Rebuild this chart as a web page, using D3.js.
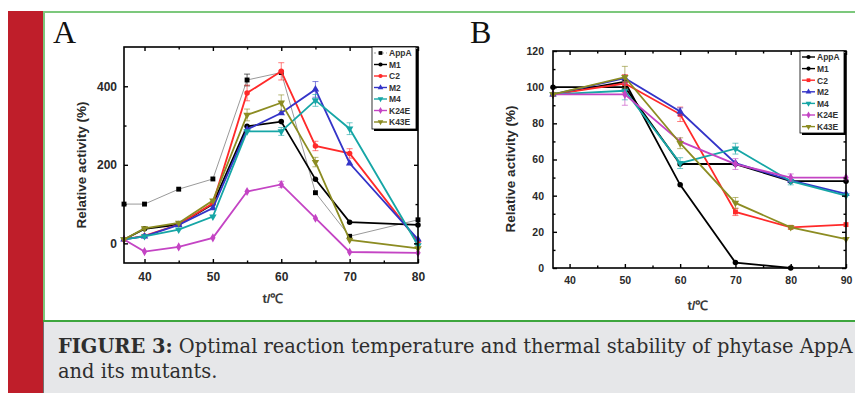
<!DOCTYPE html>
<html>
<head>
<meta charset="utf-8">
<script src="https://cdn.jsdelivr.net/npm/d3@7"></script>
<style>
  html, body { margin: 0; padding: 0; background: #fff; }
  svg { display: block; }
</style>
</head>
<body>
<div id="chart"></div>
<script>
// ---- data ----
const seriesNames = ["AppA", "M1", "C2", "M2", "M4", "K24E", "K43E"];
const seriesColors = ["#000000", "#000000", "#ff2a2a", "#3434c8", "#16a6a6", "#c444c4", "#8c8c22"];
const seriesSymbols = ["square", "circle", "circle", "triUp", "triDown", "diamond", "triDown"];

// panel A: optimal temperature
const tempA = [37, 40, 45, 50, 55, 60, 65, 70, 80];
const appaA = [100, 100, 138, 164, 416, 435, 129, 18, 60];
const m1A   = [10, 37, 48, 100, 298, 310, 163, 54, 47];
const c2A   = [10, 19, 48, 102, 383, 438, 248, 229, 5];
const m2A   = [10, 18, 47, 90, 290, 332, 392, 204, 10];
const m4A   = [10, 18, 35, 68, 285, 285, 364, 292, -5];
const k24eA = [10, -21, -9, 14, 132, 150, 64, -22, -24];
const k43eA = [10, 38, 52, 109, 327, 358, 207, 9, -13];
const errA  = {
  AppA: [0, 0, 0, 0, 15, 0, 0, 0, 0],
  C2:   [0, 0, 0, 0, 20, 22, 12, 12, 0],
  M2:   [0, 0, 0, 0, 0, 0, 20, 0, 0],
  M4:   [0, 0, 0, 0, 0, 10, 15, 15, 0],
  K24E: [0, 0, 0, 0, 0, 8, 0, 0, 0],
  K43E: [0, 0, 0, 0, 15, 20, 12, 0, 0]
};

// panel B: thermal stability
const tempB = [37, 50, 60, 70, 80, 90];
const appaB = [96, 103, 46, 3, 0];
const m1B   = [100, 100, 57.5, 57.5, 48, 48];
const c2B   = [96, 102, 85, 31, 22.5, 24];
const m2B   = [96, 105, 86.5, 58, 48.5, 41];
const m4B   = [96, 98, 58, 66, 48, 40];
const k24eB = [96, 96, 70, 57.5, 50, 50];
const k43eB = [96, 105.5, 69, 36, 22.5, 16];
const errB  = {
  C2:   [0, 5, 4, 2, 0, 0],
  M2:   [0, 0, 2, 0, 0, 0],
  M4:   [0, 5, 3, 3, 2, 0],
  K24E: [0, 6, 0, 3, 2, 0],
  K43E: [0, 6, 3, 3, 1, 0]
};

const W = 855, H = 393;
const svg = d3.select("#chart").append("svg")
  .attr("width", W).attr("height", H)
  .style("font-family", "'Liberation Sans', Arial, sans-serif");

// page frame: red side bar, green rules, grey caption box
svg.append("rect").attr("x", 0).attr("y", 0).attr("width", W).attr("height", H).attr("fill", "#fff");
svg.append("rect").attr("x", 8).attr("y", 11).attr("width", 35).attr("height", H - 11).attr("fill", "#bf1e2a");
svg.append("rect").attr("x", 43).attr("y", 322).attr("width", W - 43).attr("height", H - 322).attr("fill", "#e6e7e9");
svg.append("line").attr("x1", 43.5).attr("x2", 43.5).attr("y1", 322).attr("y2", H).attr("stroke", "#707070").attr("stroke-width", 1);
svg.append("line").attr("x1", 43).attr("x2", W).attr("y1", 12).attr("y2", 12).attr("stroke", "#7cc87c").attr("stroke-width", 2);
svg.append("line").attr("x1", 44).attr("x2", 44).attr("y1", 11).attr("y2", 321).attr("stroke", "#7cc87c").attr("stroke-width", 2);
svg.append("line").attr("x1", 43).attr("x2", W).attr("y1", 321).attr("y2", 321).attr("stroke", "#3ea63e").attr("stroke-width", 2);

function symbolPath(kind, size) {
  const map = {
    square: d3.symbolSquare, circle: d3.symbolCircle, triUp: d3.symbolTriangle,
    triDown: d3.symbolTriangle, diamond: d3.symbolDiamond
  };
  return d3.symbol().type(map[kind]).size(size)();
}

function drawPanel(p) {
  const x = d3.scaleLinear().domain(p.xDomain).range([p.left, p.right]);
  const y = d3.scaleLinear().domain(p.yDomain).range([p.bottom, p.top]);
  const g = svg.append("g");

  // series
  p.series.forEach((s, i) => {
    const name = seriesNames[i];
    const pts = s.map((v, k) => [p.temps[k], v]);
    const col = (p.grayFirst && i === 0) ? "#9a9a9a" : seriesColors[i];
    const line = d3.line().x(d => x(d[0])).y(d => y(d[1]));
    g.append("path").attr("d", line(pts)).attr("fill", "none")
      .attr("stroke", col).attr("stroke-width", (p.grayFirst && i === 0) ? 1 : 1.8);

    const err = p.errors[name] || [];
    pts.forEach((d, k) => {
      const e = err[k] || 0;
      if (!e) return;
      g.append("line").attr("x1", x(d[0])).attr("x2", x(d[0]))
        .attr("y1", y(d[1] - e)).attr("y2", y(d[1] + e))
        .attr("stroke", seriesColors[i]).attr("stroke-width", 1).attr("opacity", 0.6);
      [d[1] - e, d[1] + e].forEach(v => {
        g.append("line").attr("x1", x(d[0]) - 3).attr("x2", x(d[0]) + 3)
          .attr("y1", y(v)).attr("y2", y(v))
          .attr("stroke", seriesColors[i]).attr("stroke-width", 1).attr("opacity", 0.6);
      });
    });

    const sym = p.symbols[i];
    g.selectAll(null).data(pts).enter().append("path")
      .attr("d", symbolPath(sym, 24))
      .attr("transform", d => `translate(${x(d[0])},${y(d[1])})` + (sym === "triDown" ? " rotate(180)" : ""))
      .attr("fill", seriesColors[i]);
  });

  // frame
  g.append("rect").attr("x", p.left).attr("y", p.top)
    .attr("width", p.right - p.left).attr("height", p.bottom - p.top)
    .attr("fill", "none").attr("stroke", "#000").attr("stroke-width", 1.6);

  const axisStyle = sel => {
    sel.select(".domain").remove();
    sel.selectAll(".tick line").attr("stroke", "#000").attr("stroke-width", 1.4);
    sel.selectAll(".tick text").attr("font-size", p.tickFont).attr("font-weight", "bold").attr("fill", "#2a2a2a");
  };

  // major ticks with labels, pointing inward
  g.append("g").attr("transform", `translate(0,${p.bottom})`)
    .call(d3.axisBottom(x).tickValues(p.xMajor).tickSize(-4).tickPadding(p.xPad).tickFormat(d3.format("d")))
    .call(axisStyle);
  g.append("g").attr("transform", `translate(${p.left},0)`)
    .call(d3.axisLeft(y).tickValues(p.yMajor).tickSize(-4).tickPadding(p.yPad).tickFormat(d3.format("d")))
    .call(axisStyle);
  // opposite sides, no labels
  g.append("g").attr("transform", `translate(0,${p.top})`)
    .call(d3.axisTop(x).tickValues(p.xMajor).tickSize(-4).tickFormat(""))
    .call(axisStyle);
  g.append("g").attr("transform", `translate(${p.right},0)`)
    .call(d3.axisRight(y).tickValues(p.yMajor).tickSize(-4).tickFormat(""))
    .call(axisStyle);
  // minor ticks
  [[d3.axisBottom(x), p.bottom, p.xMinor, "x"], [d3.axisTop(x), p.top, p.xMinor, "x"],
   [d3.axisLeft(y), p.left, p.yMinor, "y"], [d3.axisRight(y), p.right, p.yMinor, "y"]]
    .forEach(([ax, pos, vals, dir]) => {
      g.append("g").attr("transform", dir === "x" ? `translate(0,${pos})` : `translate(${pos},0)`)
        .call(ax.tickValues(vals).tickSize(-2.5).tickFormat(""))
        .call(axisStyle);
    });

  // titles
  g.append("text").attr("x", p.panelX).attr("y", 43)
    .attr("font-family", "'Liberation Serif', 'Times New Roman', serif")
    .attr("font-size", 32).attr("fill", "#111").text(p.panelLabel);
  g.append("text")
    .attr("transform", `translate(${p.yTitleX},${p.yTitleY}) rotate(-90)`)
    .attr("text-anchor", "middle").attr("font-size", 13.5).attr("font-weight", "bold")
    .attr("fill", "#2a2a2a").text("Relative activity (%)");
  g.append("text").attr("x", p.xTitleX).attr("y", p.xTitleY)
    .attr("text-anchor", "middle").attr("font-size", 13).attr("font-weight", "bold")
    .attr("fill", "#3a3a3a").text("t/℃");

  // legend with drop shadow
  const L = p.legend;
  g.append("rect").attr("x", L.x + 2).attr("y", L.y + 2).attr("width", L.w).attr("height", L.h).attr("fill", "#000");
  g.append("rect").attr("x", L.x).attr("y", L.y).attr("width", L.w).attr("height", L.h)
    .attr("fill", "#fff").attr("stroke", "#000").attr("stroke-width", 0.8);
  seriesNames.forEach((name, i) => {
    const ly = L.y + 6 + i * L.step;
    const col = seriesColors[i];
    if (p.grayFirst && i === 0) {
      g.append("line").attr("x1", L.x + 2).attr("x2", L.x + 15).attr("y1", ly).attr("y2", ly)
        .attr("stroke", "#9a9a9a").attr("stroke-width", 1).attr("stroke-dasharray", "2,2");
    } else {
      g.append("line").attr("x1", L.x + 2).attr("x2", L.x + 15).attr("y1", ly).attr("y2", ly)
        .attr("stroke", col).attr("stroke-width", 1.4);
    }
    const sym = p.symbols[i];
    g.append("path").attr("d", symbolPath(sym, 14))
      .attr("transform", `translate(${L.x + 8.5},${ly})` + (sym === "triDown" ? " rotate(180)" : ""))
      .attr("fill", col);
    g.append("text").attr("x", L.x + 17).attr("y", ly + 3.3)
      .attr("font-size", 8.5).attr("font-weight", "bold").attr("fill", "#333").text(name);
  });
}

drawPanel({
  temps: tempA, series: [appaA, m1A, c2A, m2A, m4A, k24eA, k43eA], errors: errA,
  symbols: seriesSymbols, grayFirst: true,
  xDomain: [37, 80], yDomain: [-50, 500],
  left: 124, right: 418, top: 47, bottom: 263,
  xMajor: [40, 50, 60, 70, 80], xMinor: [45, 55, 65, 75],
  yMajor: [0, 200, 400], yMinor: [100, 300],
  tickFont: 12, xPad: 9, yPad: 7,
  panelLabel: "A", panelX: 53,
  yTitleX: 86, yTitleY: 165, xTitleX: 273, xTitleY: 303,
  legend: { x: 372, y: 47, w: 44, h: 82, step: 11.5 }
});

drawPanel({
  temps: tempB, series: [appaB, m1B, c2B, m2B, m4B, k24eB, k43eB], errors: errB,
  symbols: ["circle", "circle", "square", "triUp", "triDown", "diamond", "triDown"], grayFirst: false,
  xDomain: [37, 90], yDomain: [0, 120],
  left: 553, right: 846, top: 51, bottom: 268,
  xMajor: [40, 50, 60, 70, 80, 90], xMinor: [45, 55, 65, 75, 85],
  yMajor: [0, 20, 40, 60, 80, 100, 120], yMinor: [10, 30, 50, 70, 90, 110],
  tickFont: 10.5, xPad: 9, yPad: 9,
  panelLabel: "B", panelX: 470,
  yTitleX: 515, yTitleY: 169, xTitleX: 698, xTitleY: 310,
  legend: { x: 800, y: 51, w: 44, h: 82, step: 11.6 }
});

// caption
const cap = svg.append("g").attr("fill", "#2e2e2e")
  .attr("font-family", "'DejaVu Serif Condensed', 'DejaVu Serif', serif")
  .style("font-stretch", "condensed").attr("font-size", 21);
const line1 = cap.append("text").attr("x", 0).attr("y", 0);
line1.append("tspan").attr("font-weight", "bold").text("FIGURE 3:");
line1.append("tspan").text(" Optimal reaction temperature and thermal stability of phytase AppA");
cap.append("text").attr("x", 0).attr("y", 25).text("and its mutants.");
const sx = 795 / line1.node().getComputedTextLength();
cap.attr("transform", `translate(58,353) scale(${sx},1)`);
</script>
</body>
</html>
